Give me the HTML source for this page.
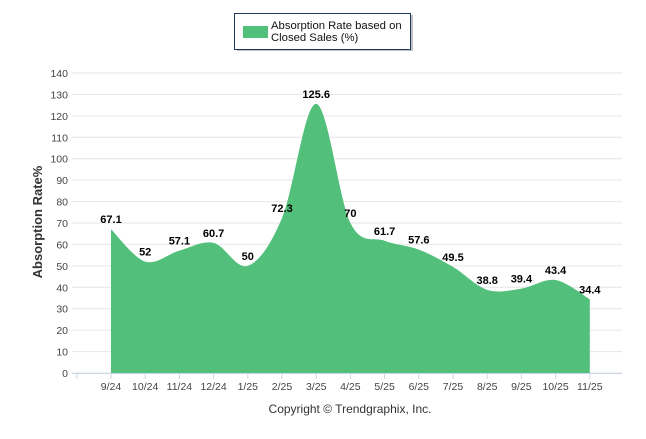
<!DOCTYPE html>
<html><head><meta charset="utf-8"><style>
body{margin:0;background:#fff;font-family:"Liberation Sans",sans-serif}
svg text{font-family:"Liberation Sans",sans-serif}
</style></head><body>
<svg id="c" width="646" height="434">
<g>
<rect x="237" y="15" width="176" height="36" fill="#999" opacity="0.6"/>
<rect x="234.5" y="13.5" width="176" height="36" fill="#fff" stroke="#1f3a5f" stroke-width="1"/>
<rect x="243" y="26" width="25" height="12" fill="#52c07a"/>
<text x="271" y="29" font-size="11.3" fill="#111">Absorption Rate based on</text>
<text x="271" y="41" font-size="11.3" fill="#111">Closed Sales (%)</text>
</g>
<g id="grid"></g>
<g id="area"></g>
<g id="axes"></g>
<text transform="translate(42,222) rotate(-90)" text-anchor="middle" font-size="13" font-weight="bold" fill="#333">Absorption Rate%</text>
<text x="350" y="413" text-anchor="middle" font-size="12" fill="#333">Copyright © Trendgraphix, Inc.</text>
</svg>
<script>
const categories=["9/24","10/24","11/24","12/24","1/25","2/25","3/25","4/25","5/25","6/25","7/25","8/25","9/25","10/25","11/25"];
const values=[67.1,52,57.1,60.7,50,72.3,125.6,70,61.7,57.6,49.5,38.8,39.4,43.4,34.4];
const yTicks=[0,10,20,30,40,50,60,70,80,90,100,110,120,130,140];
const NS="http://www.w3.org/2000/svg";
const y0=373,y1=73,ymax=140,x0=111,step=34.2,left=72,right=622;
const Y=v=>y0-(v/ymax)*(y0-y1);
const X=i=>x0+i*step;
function el(t,a,p){const e=document.createElementNS(NS,t);for(const k in a)e.setAttribute(k,a[k]);p.appendChild(e);return e;}
const grid=document.getElementById('grid'),axes=document.getElementById('axes'),area=document.getElementById('area');
yTicks.forEach(t=>{
 const l=el('line',{x1:left,x2:right,y1:Y(t),y2:Y(t),stroke:'#e6e6e6'},grid);
 
 
 const tx=el('text',{x:68,y:Y(t)+4,'text-anchor':'end','font-size':10.5,fill:'#444'},axes);
 tx.textContent=t;
 
 
});
el('line',{x1:left,x2:right,y1:y0+0.5,y2:y0+0.5,stroke:'#ccd6eb'},axes);
el('line',{x1:X(-1),x2:X(-1),y1:y0,y2:y0+6,stroke:'#ccd6eb'},axes);
categories.forEach((c,i)=>{
 el('line',{x1:X(i),x2:X(i),y1:y0,y2:y0+6,stroke:'#ccd6eb'},axes);
 const t=el('text',{x:X(i),y:y0+17,'text-anchor':'middle','font-size':10.5,fill:'#444'},axes);
 t.textContent=c;
 
 
});
const pts=values.map((v,i)=>[X(i),Y(v)]);
let d=`M${pts[0][0]},${y0}L${pts[0][0]},${pts[0][1]}`;
for(let i=0;i<pts.length-1;i++){
 const p0=pts[Math.max(i-1,0)],p1=pts[i],p2=pts[i+1],p3=pts[Math.min(i+2,pts.length-1)];
 const k=1/6;
 d+=`C${p1[0]+(p2[0]-p0[0])*k},${p1[1]+(p2[1]-p0[1])*k} ${p2[0]-(p3[0]-p1[0])*k},${p2[1]-(p3[1]-p1[1])*k} ${p2[0]},${p2[1]}`;
}
d+=`L${pts[pts.length-1][0]},${y0}Z`;
const a=el('path',{d:d,fill:'#52c07a'},area);


values.forEach((v,i)=>{
 const t=el('text',{x:X(i),y:Y(v)-6,'text-anchor':'middle','font-size':11,'font-weight':'bold',fill:'#000'},area);
 t.textContent=v;
 
 
});
</script>
</body></html>
